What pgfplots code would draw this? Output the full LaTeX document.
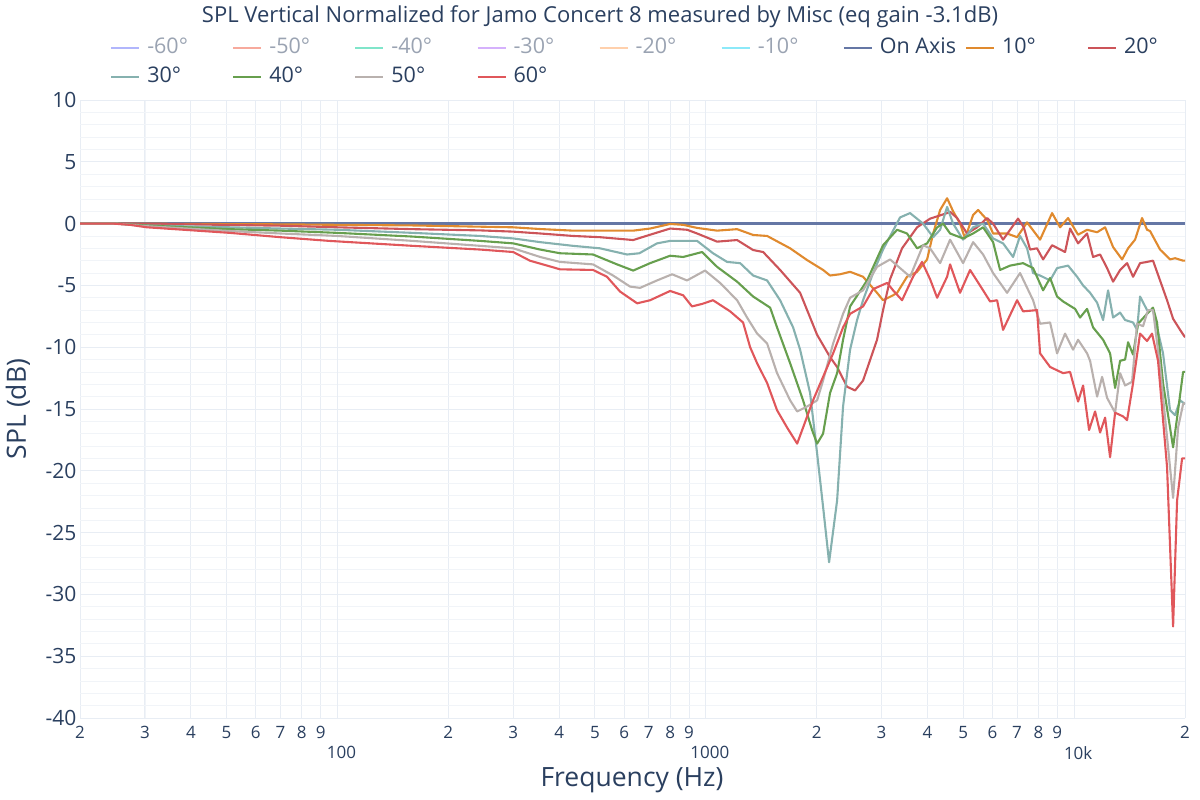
\documentclass[border=0pt]{standalone}
\usepackage{fontspec}
\setmainfont{Open Sans}
\usepackage{pgfplots}
\pgfplotsset{compat=1.18}
\definecolor{txt}{HTML}{2A3F5F}
\definecolor{hid}{HTML}{9AA3B2}
\definecolor{gridc}{HTML}{E8EDF4}
\definecolor{gridm}{HTML}{F1F4F8}
\definecolor{cm60}{HTML}{B1B6FC}
\definecolor{cm50}{HTML}{F7AA9D}
\definecolor{cm40}{HTML}{80E5CA}
\definecolor{cm30}{HTML}{D5B1FC}
\definecolor{cm20}{HTML}{FFD0AC}
\definecolor{cm10}{HTML}{8CE9F9}
\definecolor{onaxis}{HTML}{6577A5}
\definecolor{c10}{HTML}{E08A2E}
\definecolor{c20}{HTML}{CC5459}
\definecolor{c30}{HTML}{86B1AF}
\definecolor{c40}{HTML}{679F4E}
\definecolor{c50}{HTML}{B9B1AE}
\definecolor{c60}{HTML}{E0575B}
\newcommand{\lb}[1]{\makebox[85bp][l]{#1}}
\begin{document}
\begin{tikzpicture}
\useasboundingbox (-80bp,-82bp) rectangle (1120bp,718bp);
\begin{axis}[
  at={(0,0)}, anchor=south west, scale only axis,
  width=1105bp, height=618bp,
  xmode=log, xmin=20, xmax=20000, ymin=-40, ymax=10,
  xtick={20,30,40,50,60,70,80,90,200,300,400,500,600,700,800,900,2000,3000,4000,5000,6000,7000,8000,9000,20000},
  xticklabels={2,3,4,5,6,7,8,9,2,3,4,5,6,7,8,9,2,3,4,5,6,7,8,9,2},
  minor xtick={20,30},
  extra x ticks={100,1000,10000},
  extra x tick labels={100,1000,10k},
  extra x tick style={grid=major, tick label style={yshift=-20bp, xshift=4bp, font=\fontsize{21bp}{24bp}\selectfont}},
  xticklabel style={font=\fontsize{17bp}{20bp}\selectfont, text=txt, yshift=-5bp},
  ytick={-40,-35,...,10},
  yticklabels={-40,-35,-30,-25,-20,-15,-10,-5,0,5,10},
  minor ytick={-39,-38,...,9},
  yticklabel style={font=\fontsize{21bp}{24bp}\selectfont, text=txt},
  grid=both,
  major grid style={draw=gridc, line width=0.9bp},
  minor grid style={draw=gridm, line width=0.7bp},
  axis line style={draw=none},
  major tick length=0pt, minor tick length=0pt,
  every axis plot/.append style={line width=2.1bp, line join=round},
  legend columns=9,
  legend cell align=left,
  legend image code/.code={\draw[#1] (0bp,0bp) -- (28bp,0bp);},
  legend style={at={(axis description cs:0.0271,1.100)}, anchor=north west,
    draw=none, fill=none, inner sep=0pt, row sep=10bp,
    font=\fontsize{21.5bp}{24bp}\selectfont, text=txt,
    nodes={inner sep=0pt, text height=15bp, text depth=4bp},
    /tikz/every odd column/.append style={column sep=7bp}},
]
\addlegendimage{line width=2.1bp, color=cm60}\addlegendentry{\textcolor{hid}{\lb{-60°}}}
\addlegendimage{line width=2.1bp, color=cm50}\addlegendentry{\textcolor{hid}{\lb{-50°}}}
\addlegendimage{line width=2.1bp, color=cm40}\addlegendentry{\textcolor{hid}{\lb{-40°}}}
\addlegendimage{line width=2.1bp, color=cm30}\addlegendentry{\textcolor{hid}{\lb{-30°}}}
\addlegendimage{line width=2.1bp, color=cm20}\addlegendentry{\textcolor{hid}{\lb{-20°}}}
\addlegendimage{line width=2.1bp, color=cm10}\addlegendentry{\textcolor{hid}{\lb{-10°}}}

\addplot[color=onaxis, line width=2.2bp] coordinates {(20,0) (20000,0)};
\addlegendentry{\lb{On Axis}}

\addplot[c10] coordinates {(20,0) (25,0) (37,-0.02) (70,-0.06) (100,-0.1) (160,-0.15) (244,-0.25) (300,-0.3) (355,-0.44) (436,-0.57) (516,-0.57) (635,-0.57) (706,-0.4) (800,-0.03) (868,-0.1) (947,-0.35) (1073,-0.57) (1216,-0.45) (1344,-0.92) (1467,-1.0) (1694,-2.0) (1883,-2.95) (2081,-3.75) (2174,-4.2) (2314,-4.1) (2464,-3.9) (2672,-4.3) (2916,-5.6) (3028,-6.2) (3224,-5.8) (3306,-5.6) (3518,-4.3) (3746,-3.9) (3988,-2.9) (4141,-0.8) (4326,1.1) (4519,2.05) (4691,1.0) (4900,0) (5056,-1.2) (5316,0.7) (5485,1.1) (5802,0.3) (6024,-0.8) (6574,-0.8) (6998,-1.1) (7450,0.1) (8081,-1.3) (8710,0.85) (9157,-0.3) (9626,0.45) (10247,-0.9) (10840,-0.5) (11541,-0.7) (12132,-0.3) (12754,-1.9) (13494,-2.9) (14008,-2.0) (14633,-1.3) (15287,0.45) (15771,-0.5) (16069,-0.6) (17106,-2.1) (18210,-2.9) (18793,-2.8) (19759,-3.0) (20000,-3.0)};
\addlegendentry{\lb{10°}}

\addplot[c20] coordinates {(20,0) (25,0) (37,-0.05) (70,-0.17) (100,-0.3) (160,-0.45) (244,-0.55) (300,-0.65) (355,-0.8) (436,-1.0) (516,-1.1) (635,-1.33) (706,-0.9) (800,-0.4) (890,-0.5) (947,-0.8) (1073,-1.46) (1216,-1.33) (1344,-2.14) (1431,-2.3) (1591,-3.75) (1803,-5.6) (2005,-9.0) (2174,-10.8) (2272,-11.6) (2418,-13.2) (2542,-13.5) (2672,-12.7) (2916,-9.4) (3028,-7.0) (3164,-4.5) (3410,-2.0) (3746,-0.3) (4063,0.4) (4519,0.85) (4604,0.95) (4810,0.45) (5120,-0.8) (5451,-0.3) (5802,0.45) (6024,0.0) (6412,-1.3) (7040,0.4) (7300,-0.3) (7591,-2.1) (7930,-2.0) (8234,-2.9) (8710,-1.75) (9447,-2.3) (9747,-0.4) (10247,-1.6) (10840,-0.8) (11255,-2.7) (11759,-2.5) (12284,-3.6) (12754,-4.7) (13326,-3.75) (13921,-3.2) (14451,-4.3) (15097,-3.2) (15771,-3.1) (16373,-3.0) (17106,-4.6) (17872,-6.2) (18560,-7.7) (19391,-8.6) (20000,-9.2)};
\addlegendentry{\lb{20°}}

\addplot[c30] coordinates {(20,0) (25,0) (30,-0.15) (51,-0.3) (70,-0.4) (100,-0.5) (160,-0.75) (244,-1.0) (300,-1.2) (355,-1.5) (436,-1.8) (516,-2.0) (611,-2.5) (660,-2.4) (737,-1.6) (800,-1.4) (947,-1.4) (1046,-2.4) (1142,-3.1) (1239,-3.2) (1344,-4.2) (1467,-4.6) (1591,-6.2) (1726,-8.4) (1803,-10.2) (1919,-13.7) (2005,-18.6) (2081,-22.9) (2161,-27.4) (2272,-22.4) (2358,-14.8) (2464,-10.2) (2574,-7.8) (2672,-6.2) (2845,-4.0) (3028,-2.1) (3368,0.5) (3585,0.85) (3889,0.0) (4141,-1.1) (4326,-0.5) (4519,1.35) (4691,0.0) (4993,-1.3) (5316,-0.3) (5659,0.0) (6024,-1.2) (6412,-1.6) (6826,-2.7) (7131,-1.0) (7450,-2.0) (7735,-4.0) (8081,-4.2) (8602,-4.6) (8986,-3.6) (9626,-3.4) (10183,-4.3) (10573,-5.0) (11046,-5.6) (11541,-6.4) (11981,-7.8) (12361,-5.4) (12754,-7.6) (13326,-7.2) (13748,-7.8) (14451,-8.0) (14817,-8.6) (15097,-5.9) (15771,-7.0) (16373,-7.0) (16788,-8.4) (17430,-10.5) (18210,-15.1) (18793,-15.5) (19391,-14.3) (20000,-14.6)};
\addlegendentry{\lb{30°}}

\addplot[c40] coordinates {(20,0) (25,0) (30,-0.15) (51,-0.45) (70,-0.57) (100,-0.75) (160,-1.05) (244,-1.4) (300,-1.6) (355,-2.1) (402,-2.4) (494,-2.5) (574,-3.3) (635,-3.8) (706,-3.2) (800,-2.6) (868,-2.7) (977,-2.3) (1073,-3.5) (1216,-4.7) (1344,-5.9) (1495,-6.8) (1561,-8.4) (1694,-11.3) (1837,-14.3) (1943,-16.7) (2005,-17.8) (2081,-17.0) (2174,-13.7) (2272,-12.1) (2358,-9.4) (2464,-6.7) (2740,-4.6) (3028,-1.75) (3306,-0.5) (3518,-0.8) (3746,-2.0) (3988,-1.6) (4246,-0.3) (4408,0.0) (4604,-0.8) (4993,-1.2) (5316,-0.8) (5659,-0.3) (6024,-1.5) (6293,-3.75) (6699,-3.4) (7266,-3.2) (7735,-3.6) (8234,-5.4) (8602,-4.4) (8986,-5.9) (9330,-6.3) (10057,-6.9) (10376,-7.6) (10840,-6.9) (11255,-8.4) (11981,-9.4) (12517,-10.5) (12915,-13.3) (13326,-11.1) (13748,-11.0) (14008,-9.6) (14451,-10.6) (14910,-8.1) (15771,-7.3) (16373,-6.8) (16788,-8.0) (17430,-12.9) (18560,-18.1) (19149,-15.1) (19759,-12.0) (20000,-12.0)};
\addlegendentry{\lb{40°}}

\addplot[c50] coordinates {(20,0) (25,0) (30,-0.2) (51,-0.6) (70,-0.8) (100,-1.0) (160,-1.4) (244,-1.8) (300,-2.0) (355,-2.7) (402,-3.1) (494,-3.3) (560,-4.2) (623,-5.1) (663,-5.2) (737,-4.6) (810,-4.1) (889,-4.6) (995,-3.8) (1093,-4.8) (1216,-6.2) (1294,-7.6) (1378,-8.9) (1467,-9.7) (1561,-12.1) (1694,-14.3) (1770,-15.2) (1883,-14.8) (2005,-14.3) (2081,-12.7) (2216,-9.7) (2358,-7.3) (2464,-6.0) (2672,-5.4) (2916,-3.5) (3164,-2.9) (3585,-4.3) (3889,-1.75) (4063,-2.0) (4326,-3.2) (4604,-1.3) (4993,-3.2) (5316,-1.5) (5659,-2.5) (6024,-4.0) (6574,-5.6) (7131,-4.0) (7735,-6.2) (8081,-8.1) (8602,-8.0) (8986,-10.5) (9447,-8.9) (9932,-10.2) (10247,-9.4) (10840,-10.5) (11046,-11.1) (11541,-14.0) (11907,-12.4) (12284,-14.1) (12915,-15.3) (13326,-12.1) (13748,-13.1) (14361,-12.8) (14817,-8.1) (15382,-8.3) (15869,-7.0) (16373,-7.0) (17106,-11.6) (18560,-22.2) (19149,-16.5) (19759,-14.6) (20000,-14.5)};
\addlegendentry{\lb{50°}}

\addplot[c60] coordinates {(20,0) (24.6,0) (27.3,-0.1) (30.4,-0.3) (51,-0.75) (70,-1.1) (95,-1.4) (160,-1.8) (244,-2.1) (300,-2.3) (333,-3.0) (371,-3.4) (402,-3.7) (494,-3.75) (539,-4.3) (585,-5.5) (651,-6.45) (706,-6.2) (800,-5.45) (868,-5.8) (917,-6.7) (977,-6.5) (1046,-6.2) (1164,-7.1) (1262,-8.0) (1319,-10.0) (1378,-11.3) (1467,-12.9) (1561,-15.1) (1662,-16.5) (1770,-17.8) (1837,-16.5) (1955,-14.3) (2081,-12.4) (2216,-10.5) (2358,-8.4) (2464,-7.3) (2672,-6.7) (2845,-5.3) (3106,-4.8) (3224,-5.4) (3410,-6.2) (3653,-4.3) (3864,-3.1) (4063,-4.5) (4246,-6.0) (4519,-4.3) (4604,-3.3) (4900,-5.6) (5217,-3.75) (5659,-5.4) (5912,-6.3) (6176,-6.2) (6412,-8.6) (6998,-6.2) (7266,-7.1) (7930,-7.0) (8081,-10.5) (8602,-11.6) (9330,-12.1) (9747,-12.0) (10247,-14.4) (10573,-13.1) (10977,-16.7) (11397,-15.2) (11759,-16.9) (12132,-15.7) (12517,-18.9) (12915,-15.3) (13578,-15.6) (13921,-15.9) (14451,-12.9) (15097,-8.9) (15771,-9.5) (16271,-8.9) (16893,-11.1) (17872,-19.7) (18560,-32.6) (19029,-22.4) (19635,-19.0) (20000,-19.0)};
\addlegendentry{\lb{60°}}
\end{axis}
\node[font=\fontsize{22bp}{26bp}\selectfont, text=txt] at (520bp,701bp) {SPL Vertical Normalized for Jamo Concert 8 measured by Misc (eq gain -3.1dB)};
\node[font=\fontsize{26.5bp}{30bp}\selectfont, text=txt, rotate=90] at (-62bp,309bp) {SPL (dB)};
\node[font=\fontsize{26.5bp}{30bp}\selectfont, text=txt] at (552bp,-62bp) {Frequency (Hz)};
\end{tikzpicture}
\end{document}
